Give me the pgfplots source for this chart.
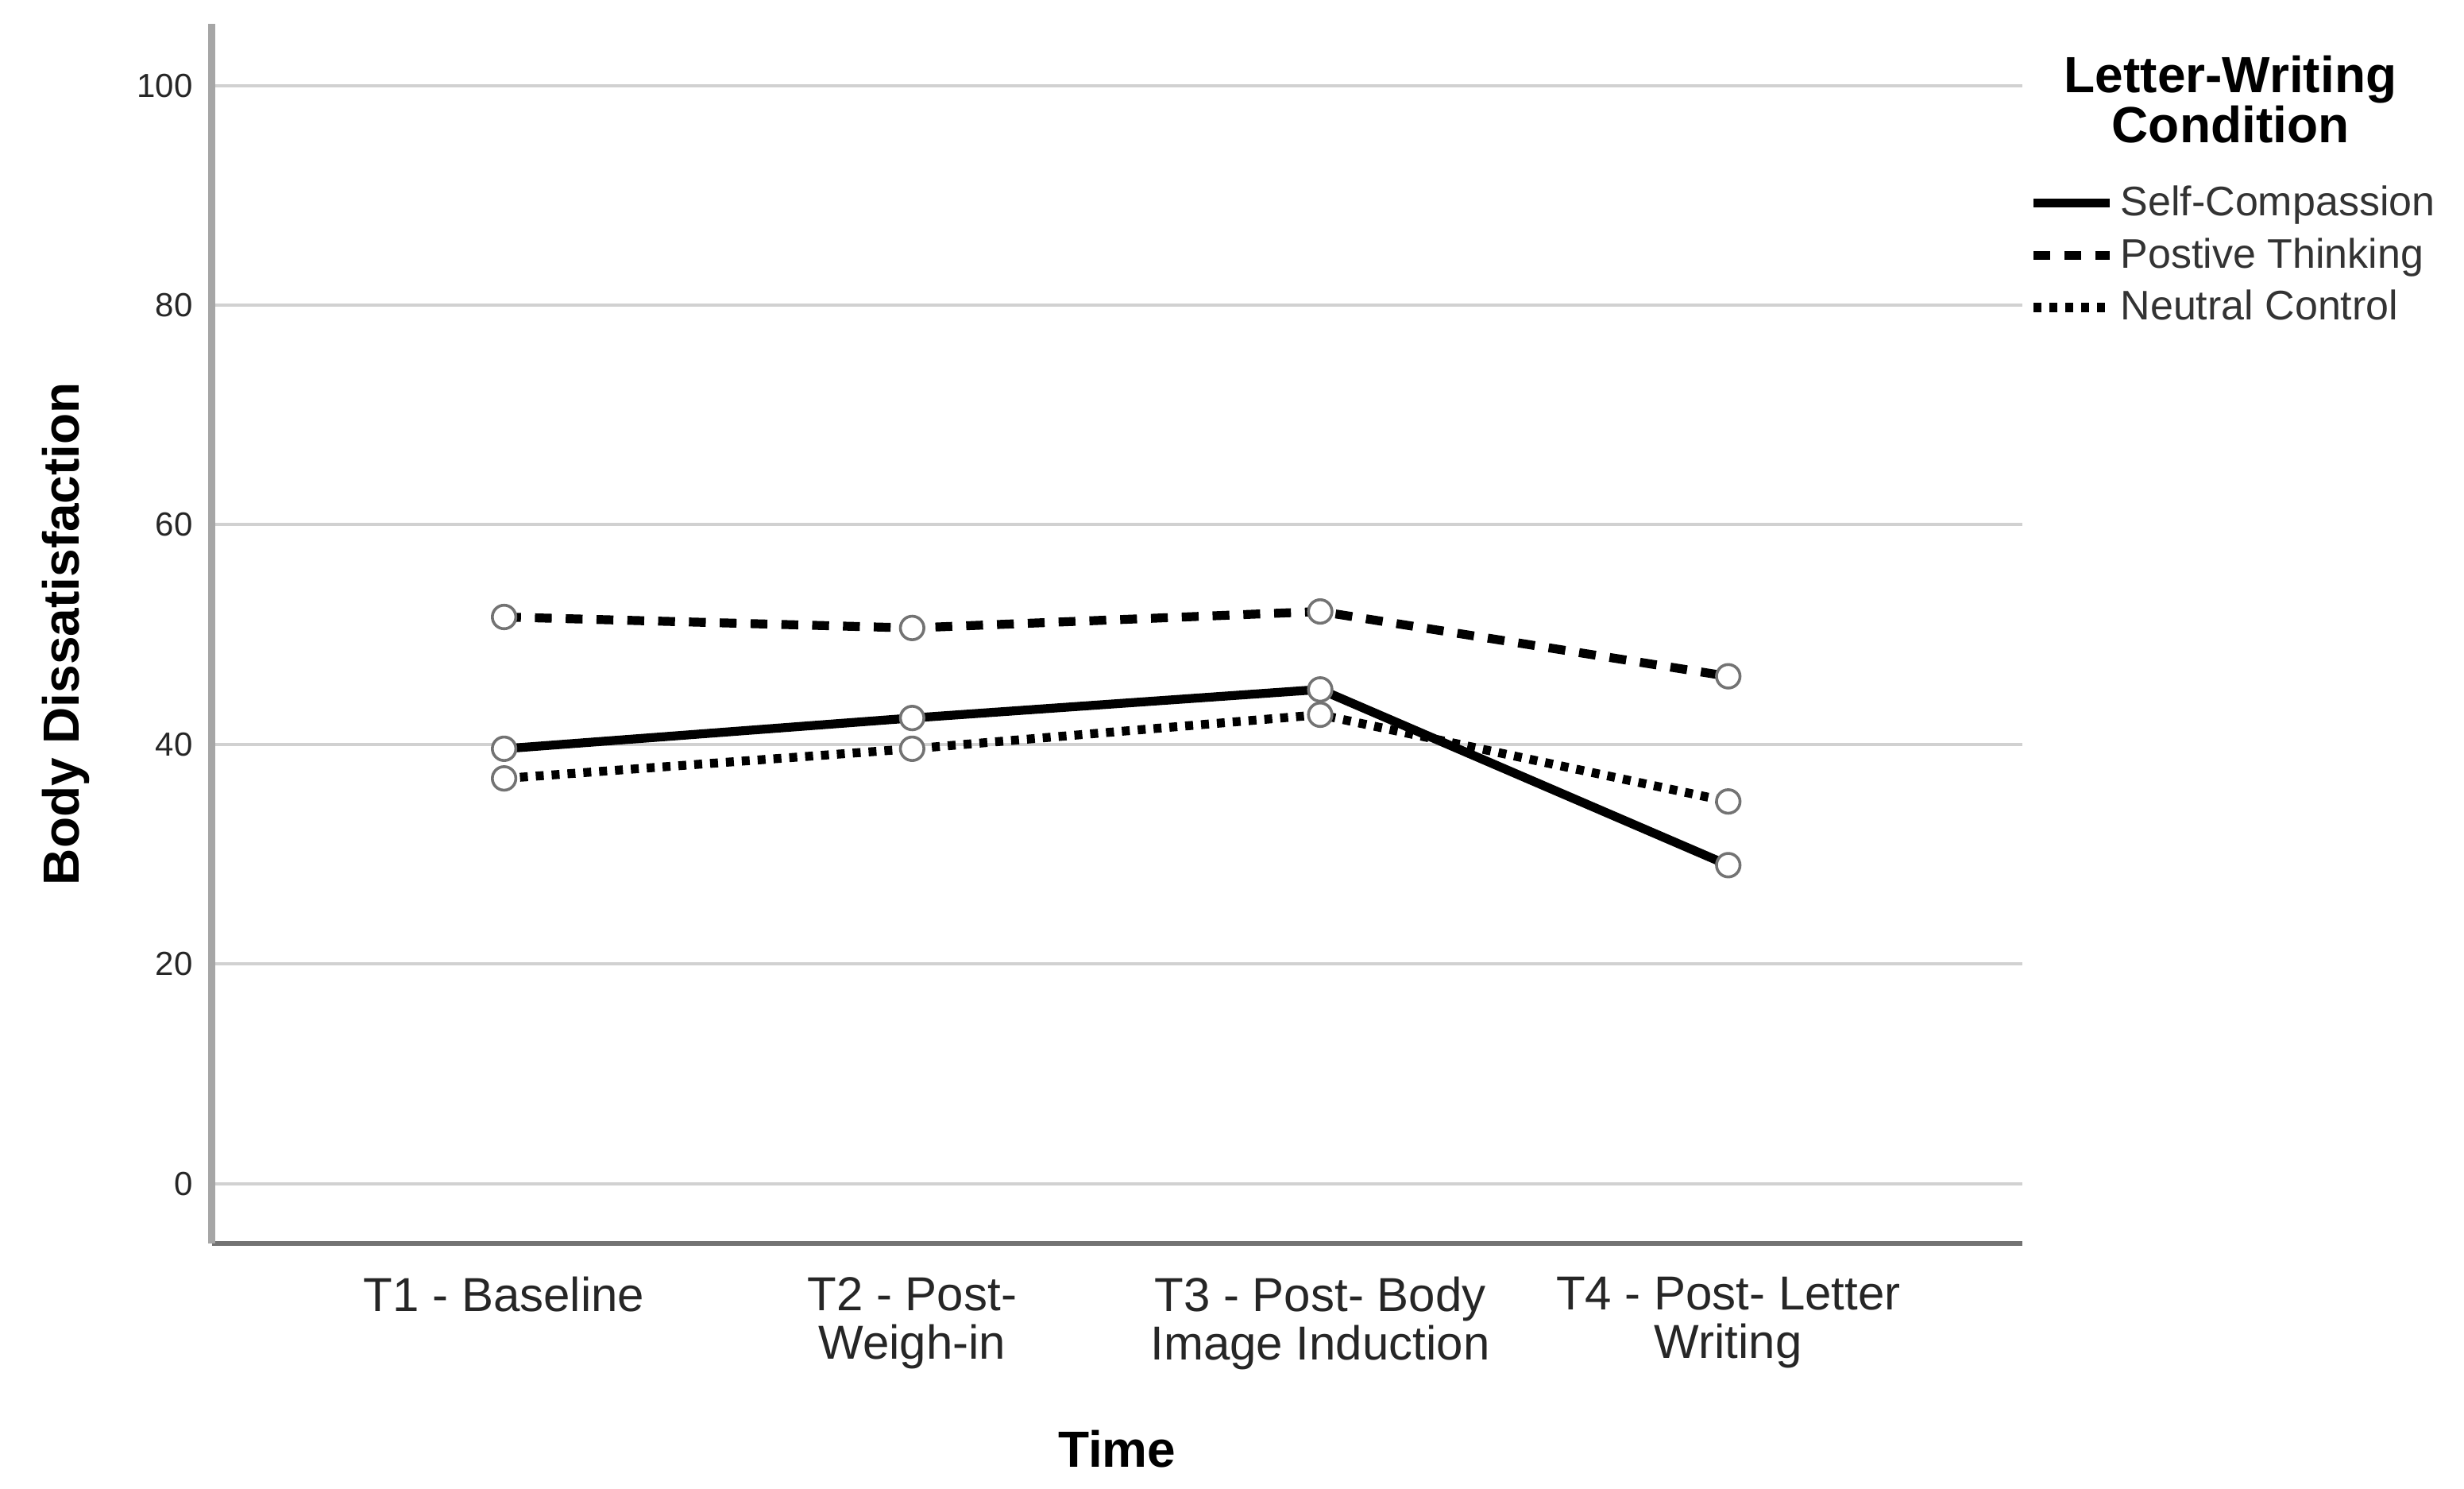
\documentclass[border=0pt]{standalone}
\usepackage{fontspec}
\setmainfont{Liberation Sans}
\usepackage{pgfplots}
\usepackage{pgfplotstable}
\pgfplotsset{compat=1.18}
\pgfplotstableread{
x SC PT NC
0 39.6 51.6 36.9
1 42.4 50.6 39.6
2 45.0 52.1 42.7
3 29.0 46.2 34.8
}\datatable
\begin{document}
\begin{tikzpicture}
\path[use as bounding box] (0,0) rectangle (775.5pt,468.25pt);
\begin{axis}[
  at={(66.7pt,77pt)}, anchor=south west,
  scale only axis, width=569.7pt, height=383.7pt,
  xmin=-0.716, xmax=3.72, ymin=-5.45, ymax=105.6,
  axis x line*=bottom, axis y line*=left,
  x axis line style={draw=black!55, line width=1.4pt, -},
  y axis line style={draw=black!35, line width=2.2pt, -},
  xtick={0,1,2,3},
  xticklabels={T1 - Baseline, T2 - Post-\\Weigh-in, T3 - Post- Body\\Image Induction, T4 - Post- Letter\\Writing},
  ytick={0,20,...,100},
  major tick length=0pt,
  ymajorgrids, grid style={draw=black!18, line width=1pt},
  xticklabel style={align=center, font=\fontsize{15}{15.3}\selectfont, text=black!85, yshift=-7pt},
  yticklabel style={font=\fontsize{10.5}{12}\selectfont, text=black!85, xshift=-2.5pt},
  /pgf/number format/assume math mode=true,
  xlabel={Time}, ylabel={Body Dissatisfaction},
  label style={font=\bfseries\fontsize{16}{18}\selectfont},
  xlabel style={at={(axis description cs:0.5,-0.1688)}, anchor=center},
  ylabel style={at={(axis description cs:-0.0807,0.5)}, anchor=center},
  legend style={at={(axis description cs:1.0035,0.873)}, anchor=north west, draw=none, fill=none, inner sep=0pt, font=\fontsize{13}{15}\selectfont, text=black!80, row sep=1.5pt},
  legend cell align=left,
  legend image code/.code={\draw[#1] (0pt,0pt) -- (24pt,0pt);},
]
\addplot[black, line width=2.8pt] table[x=x,y=SC] {\datatable};
\addlegendentry{Self-Compassion}
\addplot[black, line width=2.8pt, dash pattern=on 5.3pt off 4.4pt] table[x=x,y=PT] {\datatable};
\addlegendentry{Postive Thinking}
\addplot[black, line width=2.8pt, dash pattern=on 2.5pt off 2.5pt] table[x=x,y=NC] {\datatable};
\addlegendentry{Neutral Control}
\addplot[only marks, mark=*, mark size=3.7pt, mark options={fill=white, draw=black!55, line width=0.9pt}, forget plot] table[x=x,y=SC] {\datatable};
\addplot[only marks, mark=*, mark size=3.7pt, mark options={fill=white, draw=black!55, line width=0.9pt}, forget plot] table[x=x,y=PT] {\datatable};
\addplot[only marks, mark=*, mark size=3.7pt, mark options={fill=white, draw=black!55, line width=0.9pt}, forget plot] table[x=x,y=NC] {\datatable};
\end{axis}
\node[anchor=north, align=center, font=\bfseries\fontsize{16}{15.8}\selectfont, inner sep=0pt] at (702pt,451pt) {Letter-Writing\\Condition};
\end{tikzpicture}
\end{document}
